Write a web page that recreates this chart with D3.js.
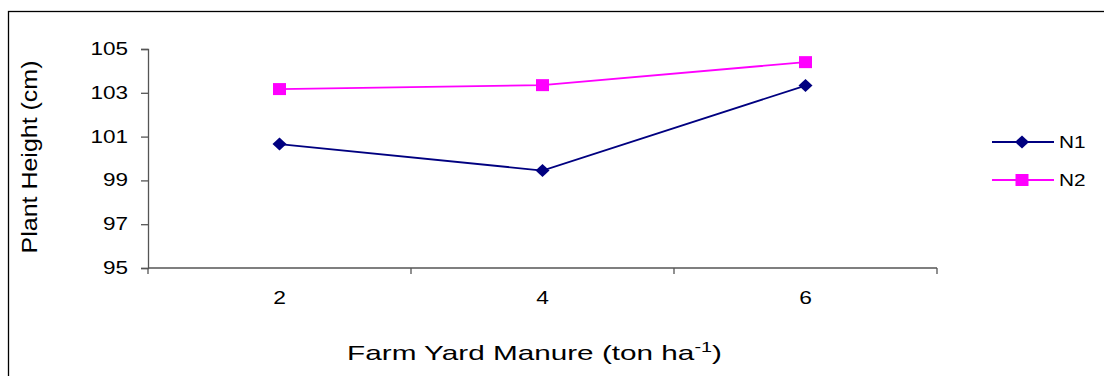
<!DOCTYPE html>
<html>
<head>
<meta charset="utf-8">
<script src="https://cdn.jsdelivr.net/npm/d3@7"></script>
<style>
  body { margin: 0; background: #fff; }
  text { font-family: "Liberation Sans", Arial, sans-serif; fill: #000; }
</style>
</head>
<body>
<div id="chart"></div>
<script>
// categories on x axis (farm yard manure, ton/ha)
var categories = ["2", "4", "6"];
// plant height values per series
var n1Values = [100.66, 99.45, 103.33];
var n2Values = [103.17, 103.35, 104.4];
var seriesNames = ["N1", "N2"];
// y ticks
var yTicks = [95, 97, 99, 101, 103, 105];

var svgWidth = 1104, svgHeight = 376;

var svg = d3.select("#chart").append("svg")
  .attr("width", svgWidth)
  .attr("height", svgHeight);

// outer frame
svg.append("rect")
  .attr("x", 8.5).attr("y", 11.5)
  .attr("width", 1110).attr("height", 400)
  .attr("fill", "none").attr("stroke", "#000").attr("stroke-width", 1.3);

var plot = { left: 148, right: 937, top: 49, bottom: 268 };

var xScale = d3.scaleBand()
  .domain(categories)
  .range([plot.left, plot.right]);

var yScale = d3.scaleLinear()
  .domain([95, 105])
  .range([plot.bottom, plot.top]);

// the source picture is stretched sideways, so text gets a horizontal scale
function stretchedText(parent, x, y, str, size, sx, anchor) {
  return parent.append("text")
    .attr("transform", `translate(${x},${y}) scale(${sx},1)`)
    .attr("text-anchor", anchor || "start")
    .style("font-size", size + "px")
    .text(str);
}

// y axis (ticks only from d3, labels drawn stretched)
var yAxis = d3.axisLeft(yScale).tickValues(yTicks).tickSize(7).tickFormat("");
var gy = svg.append("g")
  .attr("transform", `translate(${plot.left},0)`)
  .call(yAxis);
gy.select(".domain").attr("stroke", "#555").attr("stroke-width", 1.3);
gy.selectAll(".tick line").attr("stroke", "#555").attr("stroke-width", 1.3);
yTicks.forEach(t => {
  stretchedText(svg, 128, yScale(t) + 6, t, 18, 1.25, "end");
});

// x axis with ticks on category boundaries
var gx = svg.append("g")
  .attr("transform", `translate(0,${plot.bottom})`);
gx.append("line")
  .attr("x1", plot.left).attr("x2", plot.right)
  .attr("y1", 0).attr("y2", 0)
  .attr("stroke", "#555").attr("stroke-width", 1.3);
var bounds = categories.map(c => xScale(c)).concat([plot.right]);
gx.selectAll("line.tk").data(bounds).enter().append("line")
  .attr("class", "tk")
  .attr("x1", d => d).attr("x2", d => d)
  .attr("y1", 0).attr("y2", 6)
  .attr("stroke", "#555").attr("stroke-width", 1.3);
categories.forEach(c => {
  stretchedText(svg, xScale(c) + xScale.bandwidth() / 2, 304, c, 19, 1.2, "middle");
});

// x axis title, fitted to its width in the picture
var xt = svg.append("text")
  .attr("text-anchor", "middle")
  .style("font-size", "21px");
xt.append("tspan").text("Farm Yard Manure (ton ha");
xt.append("tspan").attr("dy", -8).style("font-size", "14px").text("-1");
xt.append("tspan").attr("dy", 8).text(")");
var xtw = xt.node().getBBox().width;
xt.attr("transform", `translate(534.5,360) scale(${375 / xtw},1)`);

// y axis title
var yt = svg.append("text")
  .attr("text-anchor", "middle")
  .style("font-size", "21px")
  .text("Plant Height (cm)");
var ytw = yt.node().getBBox().width;
yt.attr("transform", `translate(37,157) rotate(-90) scale(${193 / ytw},1.05)`);

// series
var diamond = "M0,-6.5L7,0L0,6.5L-7,0Z";
var square = "M-6.5,-6L6.5,-6L6.5,6L-6.5,6Z";
var series = [
  { name: seriesNames[0], values: n1Values, color: "#000080", shape: diamond },
  { name: seriesNames[1], values: n2Values, color: "#FF00FF", shape: square }
];

var line = d3.line()
  .x((d, i) => xScale(categories[i]) + xScale.bandwidth() / 2)
  .y(d => yScale(d));

series.forEach(s => {
  svg.append("path")
    .datum(s.values)
    .attr("d", line)
    .attr("fill", "none")
    .attr("stroke", s.color)
    .attr("stroke-width", 1.8);
  svg.selectAll(null).data(s.values).enter().append("path")
    .attr("d", s.shape)
    .attr("transform", (d, i) => `translate(${xScale(categories[i]) + xScale.bandwidth() / 2},${yScale(d)})`)
    .attr("fill", s.color);
});

// legend
var legend = svg.append("g");
series.forEach((s, i) => {
  var y = 142 + i * 38;
  legend.append("line")
    .attr("x1", 992).attr("x2", 1054)
    .attr("y1", y).attr("y2", y)
    .attr("stroke", s.color).attr("stroke-width", 1.8);
  legend.append("path")
    .attr("d", s.shape)
    .attr("transform", `translate(1022,${y})`)
    .attr("fill", s.color);
  stretchedText(legend, 1059, y + 6, s.name, 16, 1.3);
});
</script>
</body>
</html>
